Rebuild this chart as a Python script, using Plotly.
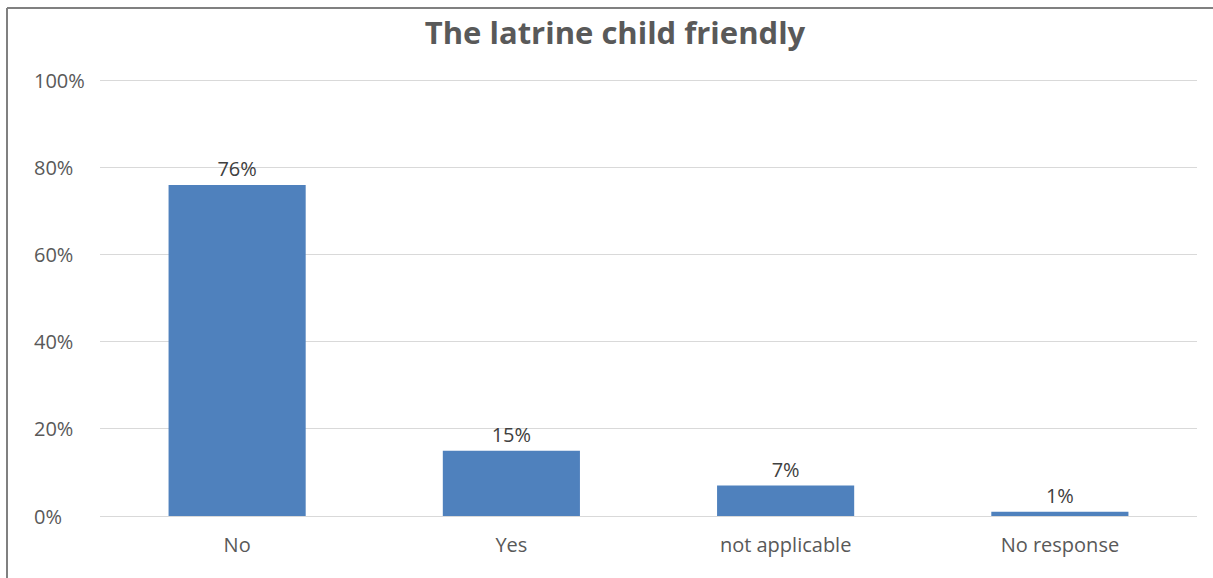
import plotly.graph_objects as go

categories = ["No", "Yes", "not applicable", "No response"]
values = [76, 15, 7, 1]
y_ticks = [0, 20, 40, 60, 80, 100]
y_tick_labels = ["0%", "20%", "40%", "60%", "80%", "100%"]
title_text = "The latrine child friendly"

FONT = "'Open Sans', Arial, sans-serif"

fig = go.Figure(
    go.Bar(
        x=categories,
        y=values,
        marker=dict(color="#4f81bd", line=dict(width=0)),
        width=0.5,
        text=[f"{v}%" for v in values],
        textposition="outside",
        textfont=dict(family=FONT, size=20, color="#404040"),
        cliponaxis=False,
    )
)

W, H = 1213, 578
ml, mr, mt, mb = 100, 16, 76, 62
pw, ph = W - ml - mr, H - mt - mb

def px_x(x):
    return (x - ml) / pw

def px_y(y):
    return (H - mb - y) / ph

# left-aligned y tick labels (as in the reference)
annotations = [
    dict(xref="paper", yref="y", x=px_x(32), y=t, text=lab,
         xanchor="left", yanchor="middle", showarrow=False,
         font=dict(family=FONT, size=20, color="#595959"))
    for t, lab in zip(y_ticks, y_tick_labels)
]

fig.update_layout(
    width=W,
    height=H,
    margin=dict(l=ml, r=mr, t=mt, b=mb, pad=0),
    paper_bgcolor="white",
    plot_bgcolor="white",
    showlegend=False,
    title=dict(
        text=f"<b>{title_text}</b>",
        x=(615) / W,
        xanchor="center",
        y=1 - 33 / H,
        yanchor="middle",
        font=dict(family=FONT, size=31, color="#595959"),
    ),
    xaxis=dict(
        showgrid=False,
        showline=False,
        ticks="",
        tickfont=dict(family=FONT, size=20, color="#595959"),
        ticklabelstandoff=15,
    ),
    yaxis=dict(
        range=[0, 101],
        tickvals=y_ticks,
        showticklabels=False,
        showgrid=True,
        gridcolor="#d9d9d9",
        gridwidth=1,
        zeroline=True,
        zerolinecolor="#d9d9d9",
        zerolinewidth=1,
        showline=False,
        ticks="",
    ),
    bargap=0.5,
    annotations=annotations,
    shapes=[
        dict(type="line", xref="paper", yref="paper",
             x0=px_x(7), x1=px_x(1220), y0=px_y(8), y1=px_y(8),
             line=dict(color="#808080", width=2)),
        dict(type="line", xref="paper", yref="paper",
             x0=px_x(7), x1=px_x(7), y0=px_y(8), y1=px_y(590),
             line=dict(color="#808080", width=2)),
    ],
)

fig.write_html("out.html")
